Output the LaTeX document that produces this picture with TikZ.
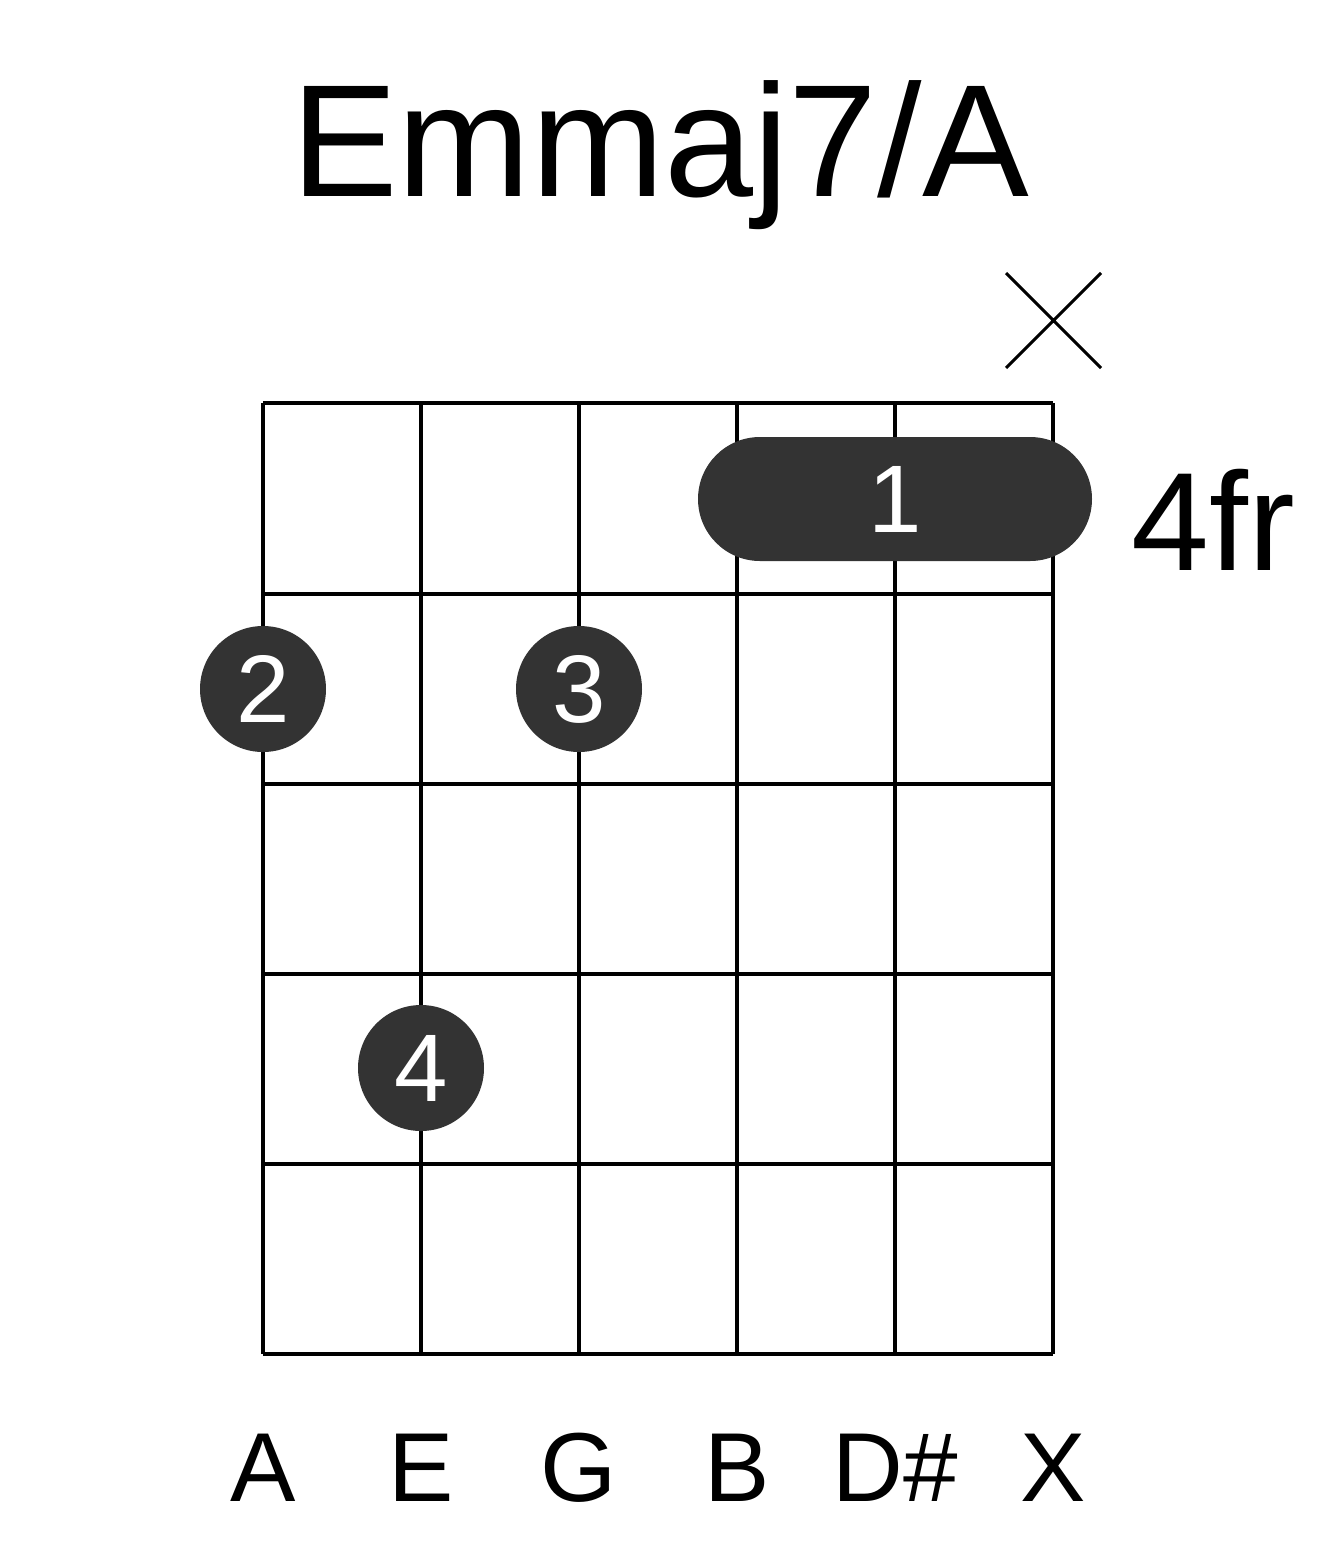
\documentclass[tikz,border=0pt]{standalone}
\usepackage{fontspec}
\setmainfont{Liberation Sans}
\definecolor{dot}{HTML}{333333}
\begin{document}
\begin{tikzpicture}[x=1pt,y=-1pt,
 gridline/.style={line width=4pt},
 finger/.style={circle,fill=dot,minimum size=126pt,inner sep=0pt,text=white,font=\fontsize{96}{96}\selectfont},
 lbl/.style={font=\fontsize{98}{98}\selectfont}]
\useasboundingbox (0,0) rectangle (1317,1551);
\node[font=\fontsize{160}{160}\selectfont] (title) at (660,155) {Emmaj7/A};
\foreach \x in {263,421,579,737,895,1053} \draw[gridline] (\x,403) -- (\x,1354);
\foreach \y in {403,594,784,974,1164,1354} \draw[gridline] (263,\y) -- (1053,\y);
\fill[dot,rounded corners=62pt] (698,437) rectangle (1092,561);
\node[text=white,font=\fontsize{96}{96}\selectfont] (one) at (895,499) {1};
\node[finger] (f2) at (263,689) {2};
\node[finger] (f3) at (579,689) {3};
\node[finger] (f4) at (421,1068) {4};
\node[font=\fontsize{140}{140}\selectfont,anchor=west] (fr) at (1128,520) {4fr};
\draw[line width=3pt] (1006,273) -- (1101,368) (1101,273) -- (1006,368);
\foreach \x/\t in {263/A,421/E,579/G,737/B,895/D\#,1053/X}
  \node[lbl] at (\x,1468) {\t};
\end{tikzpicture}
\end{document}
